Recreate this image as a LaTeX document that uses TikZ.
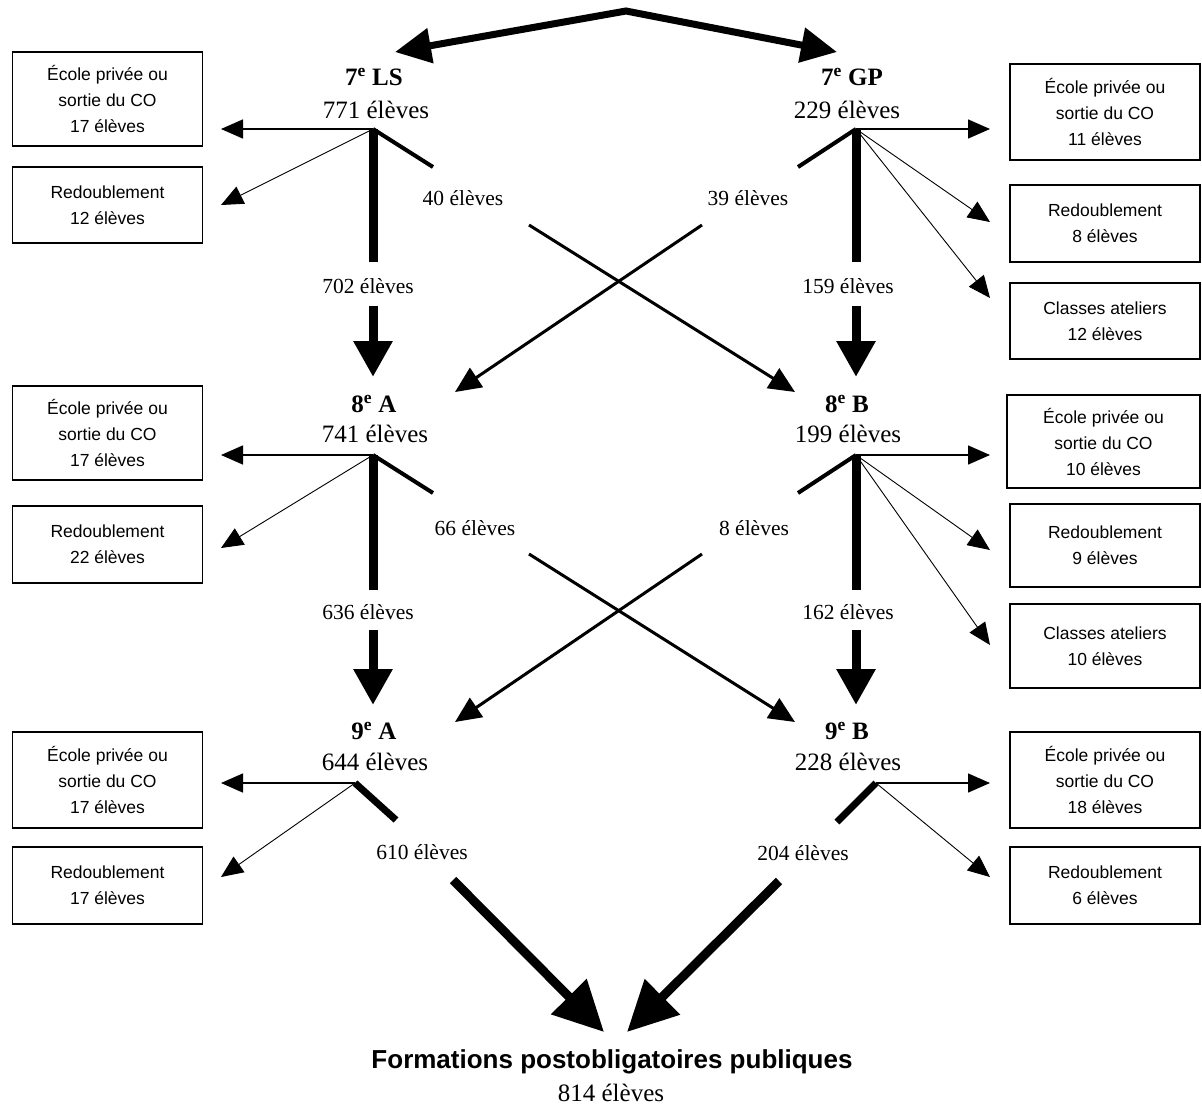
\documentclass[tikz,border=0pt]{standalone}
\usepackage{fontspec}
\setmainfont{Liberation Serif}
\newfontfamily\sansf{Liberation Sans}
\usetikzlibrary{arrows.meta}
\begin{document}
\begin{tikzpicture}[x=1pt,y=-1pt,
  ttl/.style={font=\fontsize{25}{28}\selectfont\bfseries, inner sep=0pt},
  cnt/.style={font=\fontsize{25}{28}\selectfont, inner sep=0pt},
  lbl/.style={font=\fontsize{21.5}{24}\selectfont, inner sep=0pt},
  outbox/.style={draw, line width=1.5pt, align=center, inner sep=0pt,
    font=\sansf\fontsize{17.5}{26}\selectfont, minimum width=190pt},
  harr/.style={line width=1.5pt, -{Triangle[length=22pt,width=19pt]}},
  darr/.style={line width=0.9pt, -{Triangle[length=22pt,width=19pt]}},
  vline/.style={line width=9pt},
  varr/.style={line width=9pt, -{Triangle[length=36pt,width=37pt]}},
  stub/.style={line width=4pt},
  xarr/.style={line width=3pt, -{Triangle[length=26pt,width=23pt]}},
  barr/.style={line width=9pt, -{Triangle[length=50pt,width=48pt]}}
]
\useasboundingbox (0,0) rectangle (1202,1106);

% ---------- top double arrow
\coordinate (apex) at (626,11);
\coordinate (tipL) at (395,52);
\coordinate (tipR) at (837,52);
\draw[line width=7pt, line join=miter,
  {Triangle[length=36pt,width=34pt]}-{Triangle[length=36pt,width=34pt]}]
  (tipL) -- (apex) -- (tipR);

% ---------- row 1 left (7e LS)
\node[ttl] (t7ls) at (374,77) {7\textsuperscript{e} LS};
\node[cnt] (n7ls) at (376,110) {771 élèves};
\coordinate (j1) at (373,129);
\node[outbox, minimum height=94pt] (bL1) at (107.5,99) {École privée ou\\sortie du CO\\17 élèves};
\node[outbox, minimum height=76pt] (bL2) at (107.5,205) {Redoublement\\12 élèves};
\coordinate (h1) at (221,129);
\coordinate (d1) at (221,205);
\draw[harr] (j1) -- (h1);
\draw[darr] (j1) -- (d1);
\coordinate (v1a) at (373,262);
\coordinate (v1b) at (373,306);
\coordinate (v1c) at (373,377);
\draw[vline] (j1) -- (v1a);
\node[lbl] (l702) at (368,286) {702 élèves};
\draw[varr] (v1b) -- (v1c);
\coordinate (s1) at (433,167);
\draw[stub] (j1) -- (s1);
\node[lbl] (l40) at (463,198) {40 élèves};
\coordinate (c1a) at (529,225);
\coordinate (c1b) at (795,392);
\draw[xarr] (c1a) -- (c1b);

% ---------- row 1 right (7e GP)
\node[ttl] (t7gp) at (852,77) {7\textsuperscript{e} GP};
\node[cnt] (n7gp) at (847,110) {229 élèves};
\coordinate (j2) at (856,129);
\node[outbox, minimum height=96pt] (bR1) at (1105,112) {École privée ou\\sortie du CO\\11 élèves};
\node[outbox, minimum height=77pt] (bR2) at (1105,223.5) {Redoublement\\8 élèves};
\node[outbox, minimum height=76pt] (bR3) at (1105,321) {Classes ateliers\\12 élèves};
\coordinate (h2) at (990,129);
\coordinate (d2) at (990,222);
\coordinate (d3) at (990,298);
\draw[harr] (j2) -- (h2);
\draw[darr] (j2) -- (d2);
\draw[darr] (j2) -- (d3);
\coordinate (s2) at (798,167);
\draw[stub] (j2) -- (s2);
\node[lbl] (l39) at (748,198) {39 élèves};
\coordinate (c2a) at (702,225);
\coordinate (c2b) at (455,392);
\draw[xarr] (c2a) -- (c2b);
\coordinate (v2a) at (856,262);
\coordinate (v2b) at (856,306);
\coordinate (v2c) at (856,377);
\draw[vline] (j2) -- (v2a);
\node[lbl] (l159) at (848,286) {159 élèves};
\draw[varr] (v2b) -- (v2c);

% ---------- row 2 left (8e A)
\node[ttl] (t8a) at (374,404) {8\textsuperscript{e} A};
\node[cnt] (n8a) at (375,434) {741 élèves};
\coordinate (j3) at (373,455);
\node[outbox, minimum height=94pt] (bL3) at (107.5,433) {École privée ou\\sortie du CO\\17 élèves};
\node[outbox, minimum height=77pt] (bL4) at (107.5,544.5) {Redoublement\\22 élèves};
\coordinate (h3) at (221,455);
\coordinate (d4) at (221,548);
\draw[harr] (j3) -- (h3);
\draw[darr] (j3) -- (d4);
\coordinate (v3a) at (373,590);
\coordinate (v3b) at (373,630);
\coordinate (v3c) at (373,705);
\draw[vline] (j3) -- (v3a);
\node[lbl] (l636) at (368,612) {636 élèves};
\draw[varr] (v3b) -- (v3c);
\coordinate (s3) at (433,493);
\draw[stub] (j3) -- (s3);
\node[lbl] (l66) at (475,528) {66 élèves};
\coordinate (c3a) at (529,554);
\coordinate (c3b) at (795,722);
\draw[xarr] (c3a) -- (c3b);

% ---------- row 2 right (8e B)
\node[ttl] (t8b) at (847,404) {8\textsuperscript{e} B};
\node[cnt] (n8b) at (848,434) {199 élèves};
\coordinate (j4) at (856,455);
\node[outbox, minimum height=93pt, minimum width=193pt] (bR4) at (1103.5,441.5) {École privée ou\\sortie du CO\\10 élèves};
\node[outbox, minimum height=83pt] (bR5) at (1105,545.5) {Redoublement\\9 élèves};
\node[outbox, minimum height=84pt] (bR6) at (1105,646) {Classes ateliers\\10 élèves};
\coordinate (h4) at (990,455);
\coordinate (d5) at (990,550);
\coordinate (d6) at (990,645);
\draw[harr] (j4) -- (h4);
\draw[darr] (j4) -- (d5);
\draw[darr] (j4) -- (d6);
\coordinate (s4) at (798,493);
\draw[stub] (j4) -- (s4);
\node[lbl] (l8) at (754,528) {8 élèves};
\coordinate (c4a) at (702,554);
\coordinate (c4b) at (455,722);
\draw[xarr] (c4a) -- (c4b);
\coordinate (v4a) at (856,590);
\coordinate (v4b) at (856,630);
\coordinate (v4c) at (856,705);
\draw[vline] (j4) -- (v4a);
\node[lbl] (l162) at (848,612) {162 élèves};
\draw[varr] (v4b) -- (v4c);

% ---------- row 3 left (9e A)
\node[ttl] (t9a) at (374,731) {9\textsuperscript{e} A};
\node[cnt] (n9a) at (375,762) {644 élèves};
\coordinate (j5) at (355,783);
\node[outbox, minimum height=96pt] (bL5) at (107.5,780) {École privée ou\\sortie du CO\\17 élèves};
\node[outbox, minimum height=77pt] (bL6) at (107.5,885.5) {Redoublement\\17 élèves};
\coordinate (h5) at (221,783);
\coordinate (d7) at (221,877);
\draw[harr] (j5) -- (h5);
\draw[darr] (j5) -- (d7);
\coordinate (s5) at (396,820);
\draw[line width=7pt] (j5) -- (s5);
\node[lbl] (l610) at (422,852) {610 élèves};

% ---------- row 3 right (9e B)
\node[ttl] (t9b) at (847,731) {9\textsuperscript{e} B};
\node[cnt] (n9b) at (848,762) {228 élèves};
\coordinate (j6) at (876,783);
\node[outbox, minimum height=96pt] (bR7) at (1105,780) {École privée ou\\sortie du CO\\18 élèves};
\node[outbox, minimum height=77pt] (bR8) at (1105,885.5) {Redoublement\\6 élèves};
\coordinate (h6) at (990,783);
\coordinate (d8) at (990,877);
\draw[harr] (j6) -- (h6);
\draw[darr] (j6) -- (d8);
\coordinate (s6) at (837,822);
\draw[line width=7pt] (j6) -- (s6);
\node[lbl] (l204) at (803,853) {204 élèves};

% ---------- bottom
\node[font=\sansf\bfseries\fontsize{26}{30}\selectfont, inner sep=0pt] (form) at (612,1062) {Formations postobligatoires publiques};
\node[cnt] (n814) at (611,1093) {814 élèves};
\coordinate (b1a) at (453,880);
\coordinate (b1b) at (604,1032);
\coordinate (b2a) at (779,881);
\coordinate (b2b) at (627,1032);
\draw[barr] (b1a) -- (b1b);
\draw[barr] (b2a) -- (b2b);
\end{tikzpicture}
\end{document}
